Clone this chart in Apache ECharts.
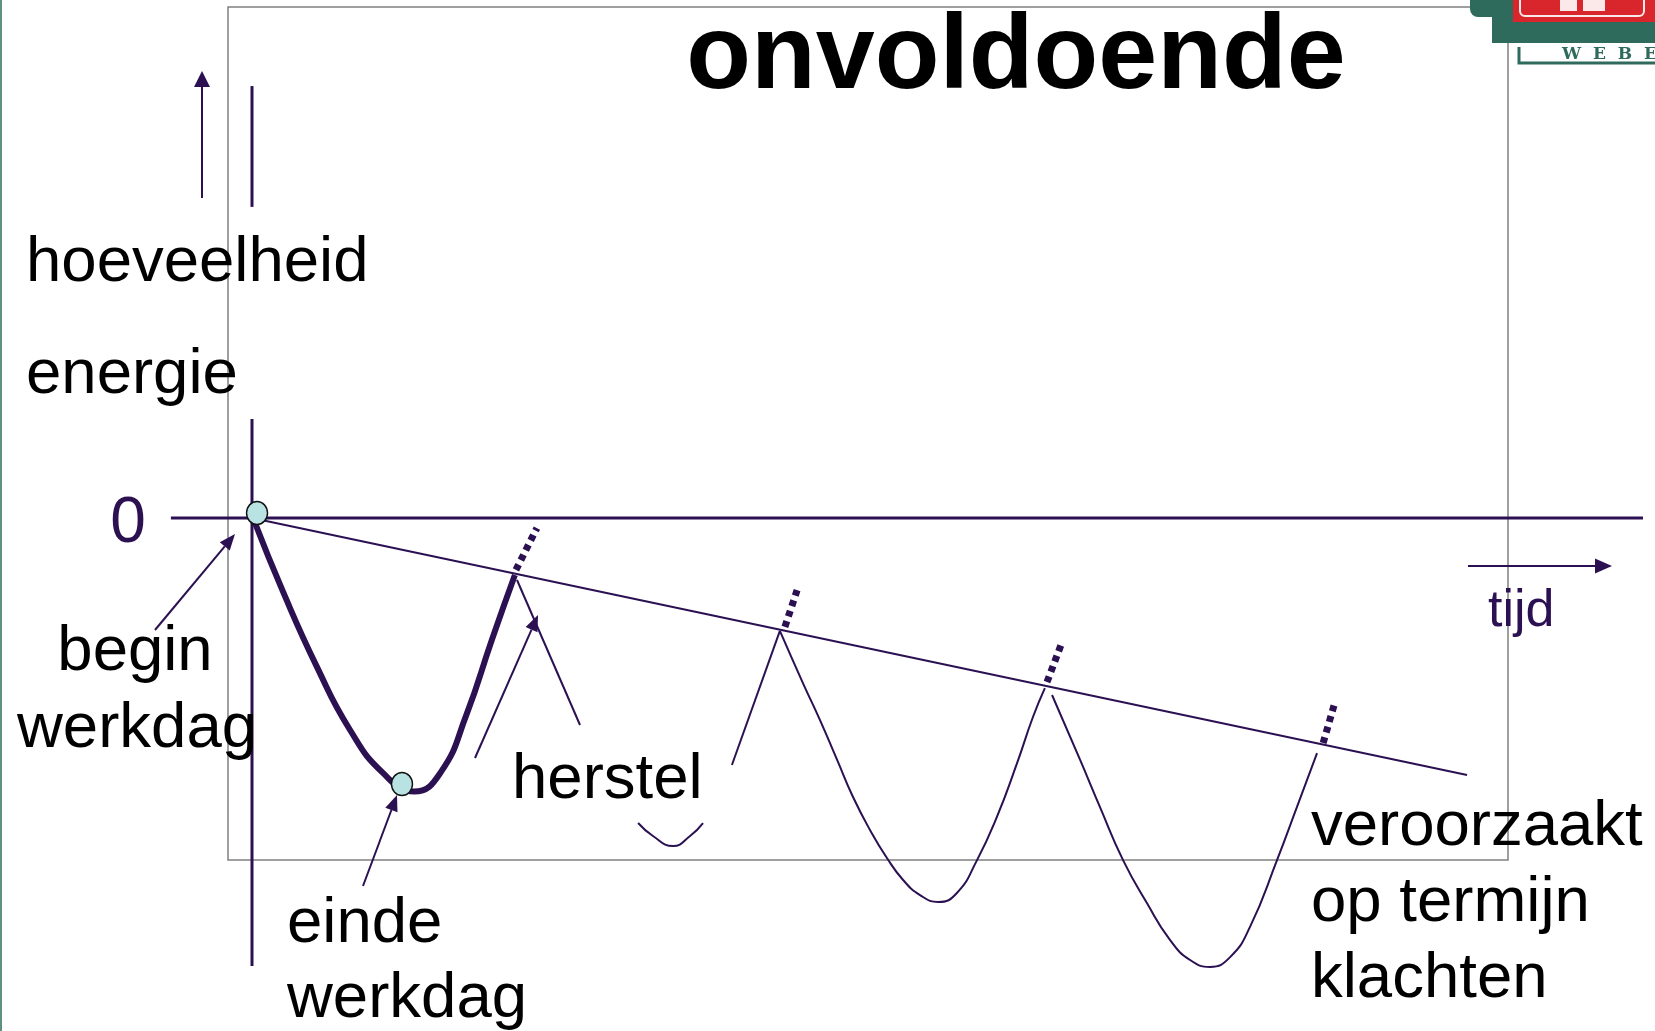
<!DOCTYPE html>
<html>
<head>
<meta charset="utf-8">
<script src="https://cdn.jsdelivr.net/npm/echarts@6/dist/echarts.min.js"></script>
<style>
  html, body { margin: 0; padding: 0; background: #fff; }
  #chart { width: 1655px; height: 1031px; }
</style>
</head>
<body>
<div id="chart"></div>
<script>
// x = tijd (werkdagen), y = hoeveelheid energie
const yTickLabels = ['0'];
const workdayCurve = [[0.01, -0.15], [0.117, -2.78], [0.245, -5.62], [0.370, -8.00], [0.494, -9.62], [0.612, -10.32], [0.712, -9.60], [0.810, -7.40], [0.905, -4.60], [0.992, -2.15]];
const day2Rise = [[1.811, -9.32], [1.992, -4.26]];
const day2Curve = [[1.992, -4.26], [2.079, -6.23], [2.143, -7.62], [2.208, -9.13], [2.268, -10.53], [2.332, -11.77], [2.396, -12.83], [2.457, -13.66], [2.521, -14.23], [2.589, -14.49], [2.660, -14.15], [2.736, -12.91], [2.811, -11.28], [2.887, -9.25], [2.947, -7.51], [2.992, -6.42]];
const day3Curve = [[3.019, -6.68], [3.125, -9.13], [3.200, -10.91], [3.287, -12.91], [3.377, -14.53], [3.464, -15.92], [3.540, -16.68], [3.615, -16.94], [3.691, -16.57], [3.766, -15.43], [3.868, -12.91], [3.943, -10.91], [4.019, -8.87]];
const arcFragment = [[1.457, -11.51], [1.513, -12.0], [1.589, -12.38], [1.653, -12.0], [1.702, -11.51]];
const trendLine = [[0, 0], [4.585, -9.70]];
const zeroLine = [[-0.306, 0], [5.249, 0]];
const energyAxisUpper = [[0, 16.30], [0, 11.74]];
const energyAxisLower = [[0, 3.74], [0, -16.91]];
const peakDashes = [
    [[0.996, -1.96], [1.075, -0.38]],
    [[2.011, -4.11], [2.057, -2.72]],
    [[3.000, -6.19], [3.057, -4.68]],
    [[4.042, -8.49], [4.087, -6.94]]
];
const workdayMarks = [[0.019, 0.19], [0.566, -10.04]];

const PURPLE = '#2b1052';
const GREEN = '#2f6b5c';
const FONT = '"Liberation Sans", Arial, sans-serif';

let chart = echarts.init(document.getElementById('chart'));

function lineSeries(data, width, extra) {
    return Object.assign({
        type: 'line',
        data: data,
        symbol: 'none',
        silent: true,
        animation: false,
        clip: false,
        lineStyle: { color: PURPLE, width: width }
    }, extra || {});
}

// pijl met gevulde punt
function arrow(x1, y1, x2, y2, len, half) {
    let a = Math.atan2(y2 - y1, x2 - x1);
    let c = Math.cos(a), s = Math.sin(a);
    let bx = x2 - len * c, by = y2 - len * s;
    return [
        { type: 'line', z: 50, shape: { x1: x1, y1: y1, x2: bx, y2: by }, style: { stroke: PURPLE, lineWidth: 2 } },
        { type: 'polygon', z: 50, shape: { points: [[x2, y2], [bx - half * s, by + half * c], [bx + half * s, by - half * c]] }, style: { fill: PURPLE } }
    ];
}

function label(text, x, baseline, size, opts) {
    opts = opts || {};
    return {
        type: 'text', z: 60,
        style: {
            text: text, x: x, y: baseline - size * 0.28,
            font: (opts.bold ? 'bold ' : '') + size + 'px ' + FONT,
            fill: opts.color || '#000',
            textAlign: opts.align || 'left',
            textVerticalAlign: 'middle'
        }
    };
}

let smoothCurve = { smooth: 0.5 };

let series = [
    lineSeries(zeroLine, 3),
    lineSeries(energyAxisUpper, 3),
    lineSeries(energyAxisLower, 3),
    lineSeries(trendLine, 2),
    lineSeries(workdayCurve, 6, smoothCurve),
    lineSeries(day2Rise, 2),
    lineSeries(day2Curve, 2, smoothCurve),
    lineSeries(day3Curve, 2, smoothCurve),
    lineSeries(arcFragment, 2, smoothCurve)
];
peakDashes.forEach(d => {
    series.push(lineSeries(d, 7, { lineStyle: { color: PURPLE, width: 7, type: [6, 5], cap: 'butt' } }));
});
series.push({
    type: 'scatter',
    data: workdayMarks,
    symbol: 'circle',
    symbolSize: [21, 23],
    z: 10,
    silent: true,
    animation: false,
    itemStyle: { color: '#b9e3e3', borderColor: '#111', borderWidth: 1.5, opacity: 1 }
});

let graphics = [
    { type: 'rect', z: 0, shape: { x: 0, y: 0, width: 2, height: 1031 }, style: { fill: '#5f8f80' } },
    { type: 'rect', z: 0, shape: { x: 228, y: 7, width: 1280, height: 853 }, style: { fill: 'none', stroke: '#808080', lineWidth: 1.5 } },
    // logo
    { type: 'rect', z: 1, shape: { x: 1470, y: 0, width: 22, height: 17, r: [0, 0, 0, 8] }, style: { fill: GREEN } },
    { type: 'rect', z: 1, shape: { x: 1492, y: 0, width: 163, height: 43 }, style: { fill: GREEN } },
    { type: 'rect', z: 2, shape: { x: 1513, y: 0, width: 142, height: 22 }, style: { fill: '#d8262c' } },
    { type: 'rect', z: 3, shape: { x: 1520, y: -6, width: 124, height: 22, r: 5 }, style: { fill: 'none', stroke: '#fbe9e9', lineWidth: 2 } },
    { type: 'rect', z: 3, shape: { x: 1560, y: 0, width: 17, height: 11 }, style: { fill: '#fbe9e9' } },
    { type: 'rect', z: 3, shape: { x: 1583, y: 0, width: 22, height: 11 }, style: { fill: '#fbe9e9' } },
    { type: 'polyline', z: 1, shape: { points: [[1519, 47], [1519, 63], [1655, 63]] }, style: { stroke: GREEN, lineWidth: 3, fill: 'none' } },
    { type: 'text', z: 3, style: { text: 'W  E  B  E  R', x: 1562, y: 55, font: 'bold 17px "DejaVu Serif", serif', fill: GREEN, textVerticalAlign: 'middle' } },
    // de zwarte tekst
    label('onvoldoende', 1016, 88, 106, { bold: true, align: 'center' }),
    label('hoeveelheid', 26, 281, 63.5),
    label('energie', 26, 393, 63.5),
    label(yTickLabels[0], 128, 542, 64, { color: PURPLE, align: 'center' }),
    label('begin', 135, 670, 63.5, { align: 'center' }),
    label('werkdag', 17, 747, 63.5),
    label('herstel', 512, 798, 63.5),
    label('einde', 287, 942, 63.5),
    label('werkdag', 287, 1017, 63.5),
    label('veroorzaakt', 1311, 845, 63.5),
    label('op termijn', 1311, 921, 63.5),
    label('klachten', 1311, 997, 63.5),
    label('tijd', 1488, 626, 52, { color: PURPLE }),
    // losse lijn bij herstel
    { type: 'line', z: 50, shape: { x1: 517, y1: 580, x2: 580, y2: 725 }, style: { stroke: PURPLE, lineWidth: 2 } }
];
graphics = graphics.concat(
    arrow(202, 198, 202, 71, 16, 8),
    arrow(1468, 566, 1612, 566, 17, 7.5),
    arrow(155, 630, 235, 534, 16, 6.5),
    arrow(363, 886, 397, 795, 16, 6.5),
    arrow(475, 758, 538, 615, 16, 6.5)
);

let options = {
    backgroundColor: '#fff',
    animation: false,
    grid: { left: 0, right: 0, top: 0, bottom: 0, containLabel: false },
    xAxis: { type: 'value', min: -252 / 265, max: 1403 / 265, show: false },
    yAxis: { type: 'value', min: -513 / 26.5, max: 518 / 26.5, show: false },
    series: series,
    graphic: graphics
};
chart.setOption(options);
window.addEventListener('resize', () => { chart.resize(); });
</script>
</body>
</html>
